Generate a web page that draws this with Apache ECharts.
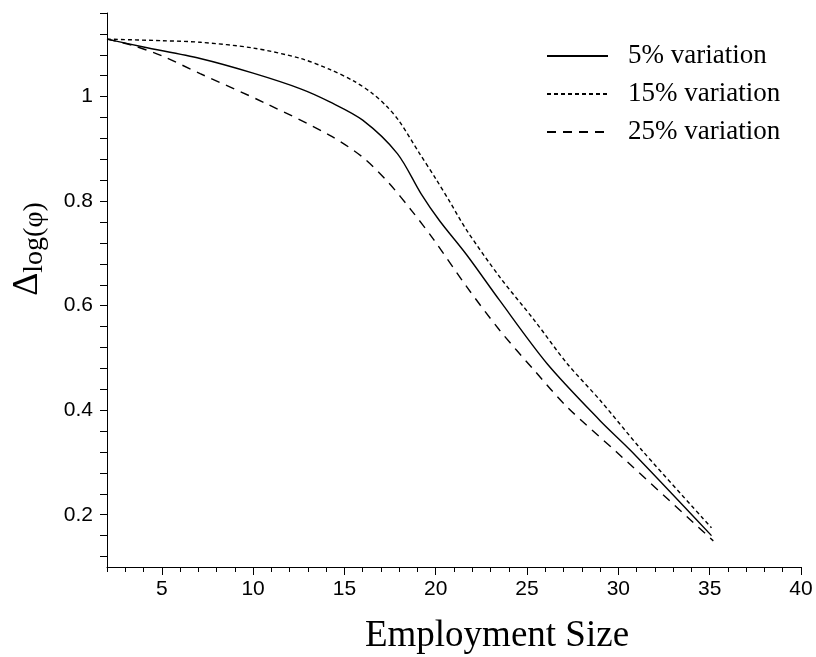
<!DOCTYPE html>
<html><head><meta charset="utf-8">
<script src="https://cdn.jsdelivr.net/npm/echarts@6/dist/echarts.min.js"></script>
<style>html,body{margin:0;padding:0;background:#fff}#c{width:816px;height:657px}</style>
</head><body><div id="c"></div>
<script>
const seriesNames = ['5% variation', '15% variation', '25% variation'];

const x5 = [2, 4, 7.1, 10, 12.6, 14.2, 16.0, 17.9, 19.2, 20.2, 21.7, 23.5, 26.1, 29.0, 30.7, 35.1];
const y5 = [1.11, 1.095, 1.073, 1.045, 1.015, 0.990, 0.955, 0.891, 0.814, 0.763, 0.697, 0.610, 0.489, 0.380, 0.322, 0.160];

const x15 = [2, 5, 7.1, 10, 12.6, 14.2, 15.5, 16.5, 17.3, 18.0, 19.1, 20.0, 20.8, 21.7, 23.5, 25.4, 27.2, 29.0, 31.3, 35.1];
const y15 = [1.11, 1.107, 1.104, 1.093, 1.073, 1.052, 1.030, 1.007, 0.982, 0.953, 0.892, 0.843, 0.797, 0.744, 0.655, 0.572, 0.489, 0.419, 0.323, 0.175];

const x25 = [2, 3.4, 5, 7.1, 10.7, 14.2, 16.0, 17.4, 18.7, 19.9, 21.7, 23.5, 25.4, 27.2, 29.9, 35.2];
const y25 = [1.11, 1.098, 1.078, 1.044, 0.987, 0.926, 0.884, 0.836, 0.781, 0.726, 0.636, 0.553, 0.476, 0.406, 0.320, 0.150];

const xMajorTicks = [5, 10, 15, 20, 25, 30, 35, 40];
const yTickLabels = [0.2, 0.4, 0.6, 0.8, 1];

const pairs = (xs, ys) => xs.map((x, i) => [x, ys[i]]);

const L = 107, R = 15, T = 13, B = 90;
const W = 816 - L - R, H = 657 - T - B;
const xScale = W / (40 - 2);
const yScale = H / (1.16 - 0.1);

const chart = echarts.init(document.getElementById('c'), null, {renderer: 'canvas'});
const black = '#000';
const sans = 'Liberation Sans';
const serif = 'Liberation Serif';

chart.setOption({
  animation: false,
  backgroundColor: '#fff',
  grid: [
    {left: L, right: R, top: T, bottom: B},
    {left: L, right: R, top: T, bottom: B + 0.02 * yScale},
    {left: L + 3 * xScale, right: R, top: T, bottom: B}
  ],
  xAxis: [
    {gridIndex: 0, type: 'value', min: 2, max: 40, interval: 1,
     axisLine: {onZero: false, lineStyle: {color: black, width: 1}},
     axisTick: {length: 5, lineStyle: {color: black}},
     axisLabel: {show: false}, splitLine: {show: false}},
    {gridIndex: 1, type: 'value', min: 2, max: 40, show: false},
    {gridIndex: 2, type: 'value', min: xMajorTicks[0], max: xMajorTicks[xMajorTicks.length - 1], interval: 5,
     axisLine: {show: false, onZero: false},
     axisTick: {length: 8, lineStyle: {color: black}},
     axisLabel: {fontFamily: sans, fontSize: 21, color: black, margin: 12},
     splitLine: {show: false}}
  ],
  yAxis: [
    {gridIndex: 0, type: 'value', min: 0.1, max: 1.16,
     axisLine: {show: true, onZero: false, lineStyle: {color: black, width: 1}},
     axisTick: {show: false}, axisLabel: {show: false}, splitLine: {show: false}},
    {gridIndex: 1, type: 'value', min: 0.12, max: 1.16, interval: 0.04,
     axisLine: {show: false, onZero: false},
     axisTick: {show: true, length: 7, lineStyle: {color: black}},
     axisLabel: {fontFamily: sans, fontSize: 21, color: black, margin: 14,
       formatter: v => {
         const hit = yTickLabels.find(t => Math.abs(t - v) < 1e-6);
         return hit === undefined ? '' : String(hit);
       }},
     splitLine: {show: false}},
    {gridIndex: 2, type: 'value', min: 0.1, max: 1.16, show: false}
  ],
  legend: {
    orient: 'vertical', left: 541, top: 37,
    itemWidth: 61, itemHeight: 14, itemGap: 10,
    itemStyle: {opacity: 0},
    textStyle: {fontFamily: serif, fontSize: 27, lineHeight: 28, color: black, padding: [0, 0, 0, 15]},
    data: seriesNames
  },
  series: [
    {name: seriesNames[0], type: 'line', xAxisIndex: 0, yAxisIndex: 0, symbol: 'none',
     smooth: 0.3,
     lineStyle: {color: black, width: 1.4, type: 'solid'}, itemStyle: {color: black},
     data: pairs(x5, y5)},
    {name: seriesNames[1], type: 'line', xAxisIndex: 0, yAxisIndex: 0, symbol: 'none',
     smooth: 0.3,
     lineStyle: {color: black, width: 1.4, type: [4, 3]}, itemStyle: {color: black},
     data: pairs(x15, y15)},
    {name: seriesNames[2], type: 'line', xAxisIndex: 0, yAxisIndex: 0, symbol: 'none',
     smooth: 0.3,
     lineStyle: {color: black, width: 1.4, type: [9, 7]}, itemStyle: {color: black},
     data: pairs(x25, y25)}
  ],
  graphic: [
    {type: 'text', x: 29, y: 249, rotation: Math.PI / 2,
     style: {text: '{d|Δ}{s|log(φ)}', align: 'center', verticalAlign: 'middle',
       rich: {
         d: {fontFamily: serif, fontSize: 36, fill: black, color: black, verticalAlign: 'bottom', padding: [0, 0, 3, 0]},
         s: {fontFamily: serif, fontSize: 28, fill: black, color: black, verticalAlign: 'bottom'}
       }}},
    {type: 'text', x: 497, y: 636,
     style: {text: 'Employment Size', font: '37px "Liberation Serif"', fill: black, align: 'center', verticalAlign: 'middle'}}
  ]
});
</script>
</body></html>
